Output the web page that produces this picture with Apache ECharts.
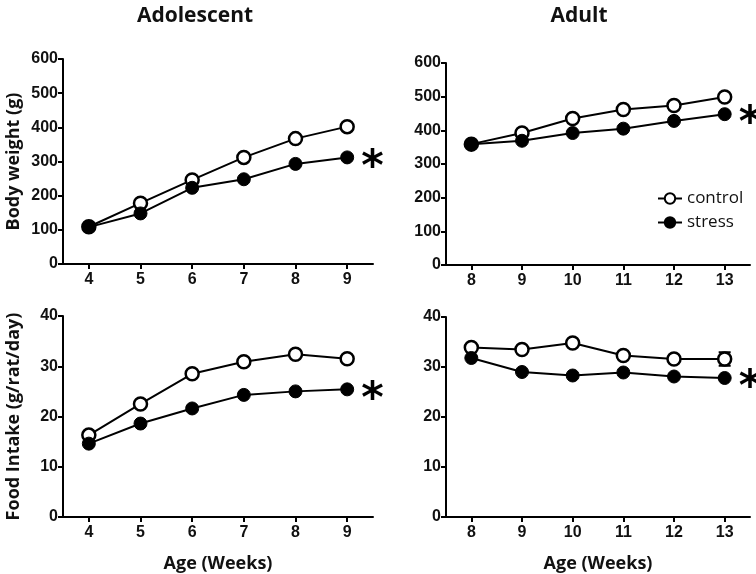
<!DOCTYPE html>
<html><head><meta charset="utf-8">
<script src="https://cdn.jsdelivr.net/npm/echarts@6/dist/echarts.min.js"></script>
<style>html,body{margin:0;padding:0;background:#fff}#c{width:756px;height:574px}</style>
</head><body><div id="c"></div>
<script>
const weeksAdol = ['4','5','6','7','8','9'];
const weeksAdult = ['8','9','10','11','12','13'];
const bwAdolControl = [109, 178, 246, 312, 367, 402];
const bwAdolStress  = [108, 148, 223, 248, 293, 312];
const bwAdultControl = [359, 392, 435, 462, 474, 499];
const bwAdultStress  = [359, 369, 392, 405, 428, 448];
const fiAdolControl = [16.3, 22.5, 28.5, 30.9, 32.4, 31.5];
const fiAdolStress  = [14.6, 18.6, 21.6, 24.3, 25.0, 25.4];
const fiAdultControl = [33.9, 33.5, 34.8, 32.3, 31.6, 31.6];
const fiAdultStress  = [31.8, 29.0, 28.3, 28.9, 28.1, 27.8];
const fiAdultControlErr = [0, 0, 0, 0, 0, 1.35];
const bwTicks = [0, 600, 100];
const fiTicks = [0, 40, 10];

const tickFont = {fontFamily:'Liberation Sans', fontWeight:'bold', fontSize:16, color:'#111'};
const nameFont = {fontFamily:'Open Sans', fontWeight:'bold', fontSize:18, color:'#111'};
const axLine = {show:true, lineStyle:{color:'#000', width:2}};
const axTick = {show:true, length:5, lineStyle:{color:'#000', width:2}};

function xAx(idx, cats, withName){
  return {type:'category', gridIndex:idx, data:cats, boundaryGap:true,
    axisLine:axLine, axisTick:Object.assign({alignWithLabel:true}, axTick),
    axisLabel:Object.assign({margin:8}, tickFont),
    name: withName ? 'Age (Weeks)' : '', nameLocation:'middle', nameGap:38, nameTextStyle:nameFont};
}
function yAx(idx, t, name){
  return {type:'value', gridIndex:idx, min:t[0], max:t[1], interval:t[2],
    axisLine:axLine, axisTick:axTick, splitLine:{show:false},
    axisLabel:Object.assign({margin:5}, tickFont),
    name:name, nameLocation:'middle', nameGap:40, nameTextStyle:nameFont};
}
const star = {show:true, position:'right', distance:7, formatter:'*',
  fontFamily:'DejaVu Sans', fontSize:43, fontWeight:'bold', color:'#000', offset:[0,11]};
function ctrl(name, idx, data){
  return {name:name, type:'line', xAxisIndex:idx, yAxisIndex:idx, data:data,
    symbol:'circle', symbolSize:13, lineStyle:{color:'#000', width:2},
    itemStyle:{color:'#fff', borderColor:'#000', borderWidth:2.5}, z:2};
}
function strs(name, idx, data){
  const d = data.map((v,i)=> i===data.length-1 ? {value:v, label:star} : v);
  return {name:name, type:'line', xAxisIndex:idx, yAxisIndex:idx, data:d,
    symbol:'circle', symbolSize:13, lineStyle:{color:'#000', width:2},
    itemStyle:{color:'#000', borderColor:'#000', borderWidth:1}, z:3};
}

const chart = echarts.init(document.getElementById('c'));
chart.setOption({
  animation:false,
  title:[
    {text:'Adolescent', left:190, top:1, textAlign:'center', textStyle:Object.assign({}, nameFont, {fontSize:21})},
    {text:'Adult', left:574, top:1, textAlign:'center', textStyle:Object.assign({}, nameFont, {fontSize:21})}
  ],
  legend:{data:['control','stress'], orient:'vertical', left:652, top:185, itemGap:7,
    itemWidth:24, itemHeight:13, textStyle:{fontFamily:'Open Sans', fontSize:17, color:'#111'}},
  grid:[
    {left:63, right:383, top:59, bottom:310},
    {left:446, right:6, top:63, bottom:309},
    {left:63, right:383, top:316, bottom:55},
    {left:446, right:6, top:317, bottom:55}
  ],
  xAxis:[xAx(0,weeksAdol,false), xAx(1,weeksAdult,false), xAx(2,weeksAdol,true), xAx(3,weeksAdult,true)],
  yAxis:[yAx(0,bwTicks,'Body weight (g)'), yAx(1,bwTicks,''), yAx(2,fiTicks,'Food Intake (g/rat/day)'), yAx(3,fiTicks,'')],
  series:[
    ctrl('control',0,bwAdolControl), strs('stress',0,bwAdolStress),
    ctrl('control',1,bwAdultControl), strs('stress',1,bwAdultStress),
    ctrl('control',2,fiAdolControl), strs('stress',2,fiAdolStress),
    ctrl('control',3,fiAdultControl), strs('stress',3,fiAdultStress),
    {type:'custom', xAxisIndex:3, yAxisIndex:3, z:1,
     data: fiAdultControl.map((v,i)=>[i, v, fiAdultControlErr[i]]),
     renderItem:function(params, api){
       const e = api.value(2); if(!e) return null;
       const hi = api.coord([api.value(0), api.value(1)+e]);
       const lo = api.coord([api.value(0), api.value(1)-e]);
       const w = 6;
       const st = {stroke:'#000', lineWidth:2};
       return {type:'group', children:[
         {type:'line', shape:{x1:hi[0], y1:hi[1], x2:lo[0], y2:lo[1]}, style:st},
         {type:'line', shape:{x1:hi[0]-w, y1:hi[1], x2:hi[0]+w, y2:hi[1]}, style:st},
         {type:'line', shape:{x1:lo[0]-w, y1:lo[1], x2:lo[0]+w, y2:lo[1]}, style:st}
       ]};
     }}
  ]
});
</script></body></html>
